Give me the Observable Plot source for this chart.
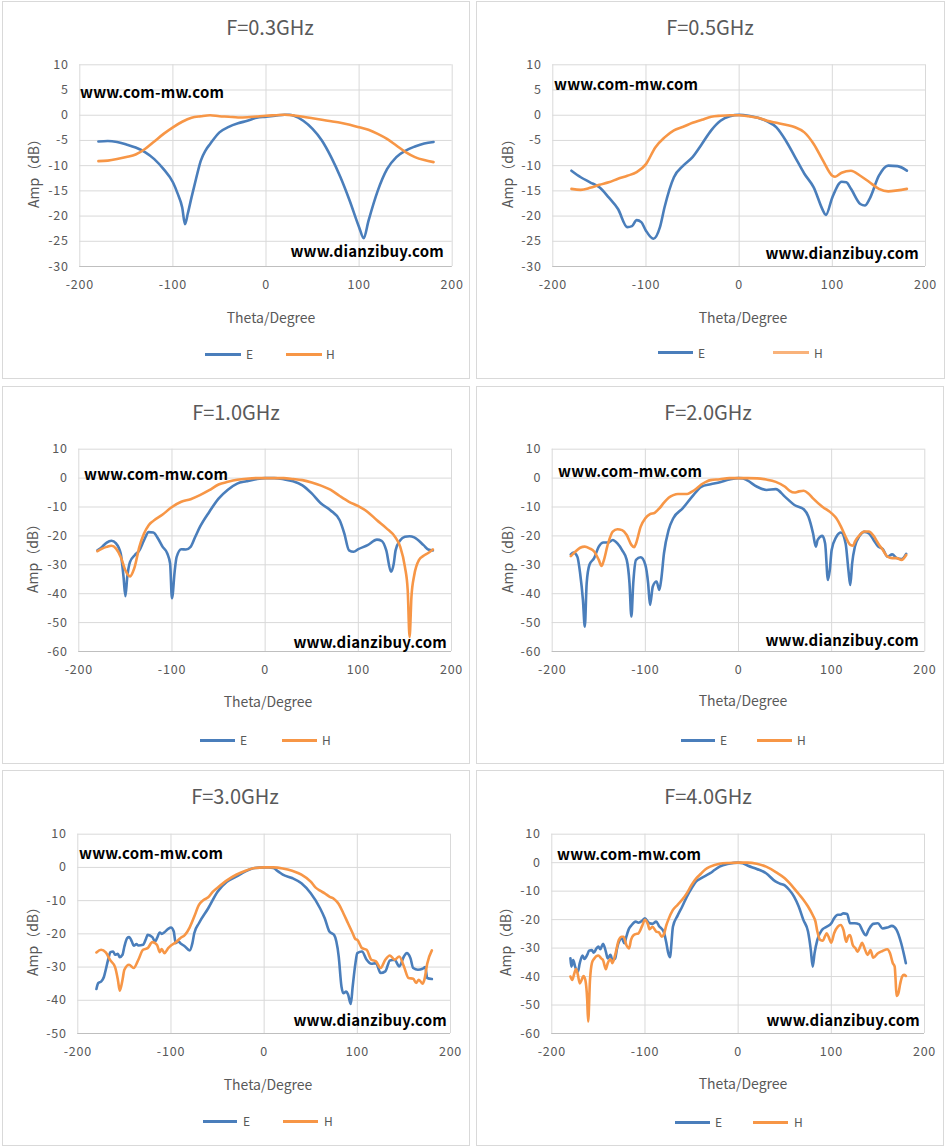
<!DOCTYPE html>
<html><head><meta charset="utf-8">
<script src="https://cdn.jsdelivr.net/npm/d3@7"></script>
<script src="https://cdn.jsdelivr.net/npm/@observablehq/plot@0.6"></script>
<style>
body{margin:0;background:#fff;}
#page{position:relative;width:946px;height:1148px;background:#fff;overflow:hidden;font-family:"Noto Sans CJK SC","Noto Sans",sans-serif;color:#595959;}
.box{position:absolute;border:1px solid #D9D9D9;box-sizing:border-box;background:#fff;}
.t{position:absolute;white-space:nowrap;line-height:1;}
.title{font-size:20px;transform:translate(-50%,-50%);}
.xlab{font-size:14px;transform:translate(-50%,-50%);}
.ylab{font-size:14px;transform:translate(-50%,-50%) rotate(-90deg);}
.leg{font-size:12px;transform:translate(0,-50%);}
.wm{font-size:15px;color:#000;font-weight:bold;letter-spacing:0.2px;}
.wmL{transform:translate(0,-50%);}
.wmR{transform:translate(-100%,-50%);}
.ll{position:absolute;height:3px;}
svg{position:absolute;}
svg text{letter-spacing:0.8px;}
</style></head>
<body><div id="page"></div>
<script>
// ---------- data: [theta (deg), amplitude (dB)] ----------
const xTicks = [-200, -100, 0, 100, 200];
const yTicks03 = [-30, -25, -20, -15, -10, -5, 0, 5, 10];
const yTicks10 = [-60, -50, -40, -30, -20, -10, 0, 10];
const yTicks30 = [-50, -40, -30, -20, -10, 0, 10];
const seriesNames = ["E", "H"];
const titles = ["F=0.3GHz", "F=0.5GHz", "F=1.0GHz", "F=2.0GHz", "F=3.0GHz", "F=4.0GHz"];

const e03 = [[-180,-5.2],[-170,-5.1],[-160,-5.3],[-150,-5.8],[-140,-6.4],[-130,-7.3],[-120,-8.7],[-110,-10.7],[-100,-13.3],[-95,-15.5],[-90,-18.3],[-87,-21.6],[-84,-19.5],[-80,-16.3],[-75,-12.5],[-70,-9],[-65,-7],[-60,-5.7],[-50,-3.4],[-40,-2.3],[-30,-1.6],[-20,-1.1],[-10,-0.5],[0,-0.3],[10,-0.1],[20,0.1],[25,0.1],[30,-0.1],[40,-1.1],[50,-2.7],[60,-5],[70,-8.3],[80,-12.3],[90,-17],[100,-22.2],[105,-24.4],[110,-21],[120,-15],[130,-10.7],[140,-8.3],[150,-7],[160,-6.2],[170,-5.6],[180,-5.3]];
const h03 = [[-180,-9.1],[-170,-9],[-160,-8.7],[-150,-8.3],[-140,-7.8],[-130,-6.7],[-120,-5.2],[-110,-3.7],[-100,-2.4],[-90,-1.3],[-80,-0.5],[-70,-0.2],[-60,0],[-50,-0.2],[-40,-0.3],[-30,-0.45],[-20,-0.4],[-10,-0.25],[0,-0.1],[10,0],[20,0.1],[30,-0.05],[40,-0.3],[50,-0.6],[60,-0.9],[70,-1.2],[80,-1.5],[90,-1.9],[100,-2.4],[110,-2.9],[120,-3.7],[130,-4.7],[140,-6],[150,-7.3],[160,-8.3],[170,-8.9],[180,-9.3]];

const e05 = [[-180,-11],[-170,-12.3],[-160,-13.3],[-150,-14.3],[-140,-16.3],[-130,-18.6],[-120,-22.2],[-115,-22],[-110,-20.8],[-105,-21.2],[-100,-22.9],[-92,-24.5],[-85,-22.2],[-80,-18.2],[-70,-12.3],[-60,-10],[-50,-8.3],[-40,-5.7],[-30,-3],[-20,-1.1],[-10,-0.2],[0,0.07],[10,-0.1],[20,-0.5],[30,-1.2],[40,-2.4],[50,-5],[60,-8.3],[70,-11.6],[80,-14.3],[90,-18.9],[93,-19.8],[100,-16.3],[110,-13.2],[115,-13.3],[120,-14.6],[130,-17.6],[135,-17.9],[140,-16.6],[150,-12],[160,-10],[170,-10.1],[180,-11]];
const h05 = [[-180,-14.6],[-170,-14.8],[-160,-14.4],[-150,-13.8],[-140,-13.3],[-130,-12.6],[-120,-12],[-110,-11.3],[-100,-9.7],[-90,-6.4],[-80,-4.4],[-70,-3],[-60,-2.3],[-50,-1.5],[-40,-0.9],[-30,-0.3],[-20,-0.1],[-10,0],[0,0],[10,-0.2],[20,-0.5],[30,-1.1],[40,-1.5],[50,-1.9],[60,-2.4],[70,-3.4],[80,-5.7],[90,-9],[100,-12],[103,-12.2],[110,-11.4],[120,-11],[130,-12],[140,-13.3],[150,-14.6],[160,-15.1],[170,-14.9],[180,-14.6]];

const e10 = [[-180,-25],[-175,-23.8],[-170,-22.3],[-165,-21.7],[-160,-22.6],[-155,-26.1],[-152,-34.2],[-150,-40.9],[-148,-34.2],[-145,-29],[-140,-26.7],[-135,-25],[-130,-21.5],[-125,-18.7],[-120,-18.8],[-115,-20.9],[-110,-23.8],[-105,-26.1],[-102,-29.6],[-100,-41.6],[-97,-31.9],[-95,-27.3],[-90,-24.6],[-85,-24.7],[-80,-23.8],[-75,-20.3],[-70,-16.9],[-60,-11.7],[-50,-7.1],[-40,-4],[-30,-1.9],[-20,-1.1],[-10,-0.4],[0,0],[10,0],[20,-0.4],[30,-1.1],[40,-2.5],[50,-5.3],[60,-8.8],[70,-11.1],[80,-14.6],[85,-19.2],[90,-25],[95,-25.5],[100,-24.6],[110,-23.2],[120,-21.3],[125,-21.7],[130,-25],[135,-32.4],[138,-29.6],[140,-25],[145,-21.5],[150,-20.3],[155,-20.1],[160,-20.5],[170,-23.2],[175,-24.7],[180,-25]];
const h10 = [[-180,-25.3],[-175,-24.4],[-170,-23.8],[-165,-23.4],[-160,-24.4],[-155,-27.3],[-150,-31.9],[-147,-33.6],[-145,-34],[-142,-32.5],[-140,-30.7],[-135,-23.8],[-130,-19.2],[-125,-16.3],[-120,-14.8],[-110,-12.6],[-100,-10],[-90,-8.2],[-80,-7.3],[-70,-5.9],[-60,-4.2],[-50,-2.2],[-40,-1.3],[-30,-0.6],[-20,-0.2],[-10,0],[0,0],[10,0],[20,0],[30,-0.3],[40,-0.7],[50,-1.5],[60,-2.6],[70,-4],[80,-6.2],[90,-8.2],[100,-9.7],[110,-11.7],[120,-14.6],[130,-17.3],[140,-20.6],[145,-23.8],[150,-30.7],[153,-38.8],[155,-55],[157,-41.1],[160,-33.6],[165,-28.4],[170,-26.9],[175,-25.9],[180,-24.7]];

const e20 = [[-180,-26.4],[-177,-25.8],[-173,-27.2],[-170,-33],[-167,-42.2],[-165,-51.4],[-163,-36.4],[-160,-30],[-155,-27.7],[-150,-23.7],[-145,-22.3],[-140,-22.3],[-135,-21.4],[-130,-22.6],[-125,-24.9],[-120,-28.3],[-117,-36.4],[-115,-47.9],[-113,-36.4],[-110,-28.3],[-105,-27.4],[-100,-30],[-97,-36.4],[-95,-43.9],[-92,-37.5],[-88,-35.8],[-85,-38.7],[-83,-35.2],[-80,-26],[-75,-17.9],[-70,-13.9],[-60,-10.5],[-50,-6.5],[-40,-3],[-30,-2.1],[-20,-1.4],[-10,-0.5],[0,0],[5,-0.1],[10,-0.9],[20,-3],[30,-4.1],[40,-3.8],[50,-6.5],[60,-9.3],[70,-10.8],[75,-13.3],[80,-19.1],[83,-23.7],[85,-21.4],[90,-20],[93,-22.6],[96,-35.2],[98,-31.8],[100,-24.9],[105,-20.3],[110,-18.8],[115,-22.6],[118,-31.8],[120,-37],[122,-29.5],[125,-23.7],[130,-20],[135,-18.6],[140,-19.1],[145,-21.4],[150,-23.7],[155,-24.6],[160,-27.2],[165,-26.4],[170,-27.7],[175,-28],[180,-26.2]];
const h20 = [[-180,-27],[-175,-25.4],[-170,-24.1],[-165,-23.7],[-160,-24.3],[-155,-25.4],[-150,-28.3],[-147,-30.4],[-145,-28.9],[-140,-22.6],[-135,-18.5],[-130,-17.7],[-125,-18],[-120,-19.7],[-115,-23.1],[-112,-23.9],[-110,-22.6],[-105,-16.8],[-100,-13.9],[-95,-12.5],[-90,-12],[-85,-10.5],[-80,-8.5],[-75,-6.8],[-70,-5.9],[-65,-5.5],[-60,-5.5],[-55,-5.5],[-50,-4.7],[-45,-3.6],[-40,-2.2],[-35,-1.3],[-30,-0.7],[-20,-0.4],[-10,0],[0,0],[10,0],[20,-0.1],[30,-0.5],[40,-1.3],[50,-3],[55,-4.4],[60,-5],[65,-4.6],[70,-4.4],[75,-5.3],[80,-7],[90,-9.9],[100,-12.2],[105,-13.9],[110,-16.8],[115,-20.3],[120,-23.1],[123,-23.4],[125,-22],[130,-19.7],[135,-18.5],[140,-18.5],[145,-20],[150,-22.6],[155,-24.9],[160,-27.2],[165,-27.7],[170,-27.7],[175,-28.3],[180,-26.6]];

const e30 = [[-180,-36.6],[-178,-34.8],[-175,-34.4],[-172,-33],[-170,-30.8],[-167,-27.3],[-165,-25.5],[-162,-25.3],[-160,-26.3],[-157,-26],[-155,-27],[-152,-26.3],[-150,-23.8],[-147,-21.3],[-145,-21],[-142,-22.3],[-140,-23.6],[-137,-23.1],[-135,-23.5],[-130,-23.3],[-127,-21.6],[-125,-20.3],[-120,-21],[-117,-22.3],[-115,-21.3],[-112,-19.6],[-110,-20],[-107,-19.5],[-103,-18.5],[-100,-18.1],[-97,-19.3],[-95,-22.8],[-92,-22.3],[-90,-22.8],[-85,-23.8],[-80,-25],[-77,-22.8],[-75,-19.8],[-70,-16.8],[-60,-12.3],[-50,-7.3],[-40,-4.3],[-30,-2.8],[-20,-1.2],[-10,-0.2],[0,0],[5,0],[10,-0.2],[15,-1.2],[20,-2.2],[30,-3.2],[40,-4.8],[50,-7.8],[60,-12.3],[65,-15.3],[70,-19.3],[75,-20.3],[80,-26.8],[83,-35.9],[85,-37.9],[88,-37.4],[90,-38.2],[93,-41.1],[95,-35.9],[98,-28.8],[100,-25.8],[105,-25.3],[110,-27.8],[115,-29],[120,-28.8],[125,-31.8],[130,-31.3],[135,-28],[140,-27.8],[145,-29.8],[150,-26.8],[153,-25.8],[157,-27.3],[160,-30.3],[165,-30.8],[170,-30.5],[173,-30],[175,-33.3],[180,-33.6]];
const h30 = [[-180,-25.6],[-175,-24.8],[-170,-25.6],[-165,-28],[-160,-30],[-157,-33.8],[-155,-37.1],[-152,-33.8],[-150,-30.8],[-145,-29.3],[-140,-30.3],[-135,-27.8],[-130,-24.8],[-125,-24.3],[-120,-22.5],[-115,-23.3],[-112,-25.5],[-110,-24.6],[-107,-25.8],[-103,-24.3],[-100,-23.5],[-95,-22.6],[-90,-21.3],[-85,-20.3],[-80,-18.1],[-75,-14.8],[-70,-11.3],[-65,-9.8],[-60,-9],[-55,-7.3],[-50,-6.1],[-40,-3.9],[-30,-2.2],[-20,-1],[-10,-0.2],[0,0],[10,0],[20,-0.3],[30,-1],[40,-2.2],[50,-4.3],[55,-6],[60,-7],[65,-7.8],[70,-8.8],[75,-9.5],[80,-11],[85,-13.8],[90,-16.8],[95,-19.8],[98,-21.6],[100,-21.8],[105,-24.3],[110,-24.8],[115,-27.8],[120,-28.3],[125,-30.3],[130,-27.8],[135,-26.5],[140,-27.8],[145,-26.8],[150,-29.8],[155,-33.3],[160,-33.5],[163,-34.8],[166,-33.8],[170,-35],[172,-33.8],[175,-29],[180,-25]];

const e40 = [[-180,-33.6],[-179,-36.5],[-177,-34.2],[-175,-36.5],[-172,-38.3],[-170,-35.3],[-167,-32.6],[-165,-33.8],[-162,-32.4],[-160,-30.9],[-157,-30.7],[-155,-31.6],[-152,-30.1],[-150,-29.5],[-148,-30.4],[-145,-28.5],[-142,-31.2],[-140,-33.6],[-137,-32.4],[-135,-34.2],[-132,-33.6],[-130,-30.1],[-127,-27.1],[-125,-26.5],[-122,-28.3],[-120,-26],[-117,-23.1],[-115,-22.2],[-110,-20.7],[-107,-21.1],[-103,-20.4],[-100,-19.5],[-97,-20.7],[-95,-21.3],[-92,-21.5],[-88,-20.7],[-85,-22.2],[-80,-24.2],[-77,-28.3],[-75,-31.8],[-73,-33.2],[-72,-30],[-70,-22.5],[-65,-18.6],[-60,-15.4],[-55,-11.9],[-50,-9],[-45,-6.6],[-40,-5.5],[-35,-4.6],[-30,-3.7],[-25,-2.5],[-20,-1.4],[-10,-0.4],[0,0],[5,-0.2],[10,-1],[20,-2.2],[30,-3.7],[40,-6.6],[45,-7.4],[50,-8],[55,-9.6],[60,-11.9],[65,-15.4],[70,-20.1],[75,-24.2],[78,-30.7],[80,-36.5],[82,-31.8],[85,-27.1],[90,-23.6],[95,-22.5],[100,-21.3],[103,-19.5],[107,-18.3],[110,-18.3],[113,-17.8],[117,-18],[120,-21.3],[125,-21.3],[130,-21.7],[133,-23.6],[137,-25.5],[140,-23.6],[145,-21.5],[150,-21.3],[155,-23.1],[160,-22.8],[165,-22.2],[170,-23.6],[175,-28.3],[180,-35.3]];
const h40 = [[-180,-40],[-178,-41.2],[-176,-39.1],[-174,-37.4],[-172,-39.4],[-170,-42.4],[-168,-41.2],[-166,-39.8],[-164,-41.2],[-162,-48.2],[-161,-55.8],[-159,-41.2],[-157,-35.3],[-155,-33.9],[-150,-32.6],[-147,-33.6],[-145,-34.2],[-142,-37.4],[-140,-35.3],[-137,-33.9],[-135,-35.3],[-132,-32.4],[-128,-27.1],[-125,-26],[-123,-26],[-120,-28.9],[-117,-30.1],[-115,-27.1],[-112,-25.4],[-110,-25.1],[-107,-24.8],[-103,-22.2],[-100,-20.1],[-97,-21.5],[-95,-23.4],[-92,-22.5],[-88,-24.2],[-85,-24.5],[-82,-26],[-80,-25.4],[-77,-21.9],[-75,-20.1],[-70,-16.6],[-65,-14.8],[-60,-13],[-55,-10.7],[-50,-7.8],[-45,-5.5],[-40,-3.9],[-35,-2.3],[-30,-1.4],[-20,-0.4],[-10,-0.1],[0,0],[10,0],[20,-0.4],[30,-1.4],[40,-3.2],[50,-5.5],[60,-9],[65,-11],[70,-13],[75,-15.4],[80,-18.4],[83,-20.7],[85,-24.2],[88,-27.1],[91,-27.4],[93,-26],[95,-24.8],[97,-26],[100,-28.1],[103,-24.8],[107,-22.5],[110,-21.9],[113,-23.6],[116,-27.8],[118,-26],[120,-25.4],[123,-28.9],[126,-30.1],[128,-31.3],[131,-29.5],[133,-28.1],[136,-30.4],[139,-32.4],[142,-30.7],[145,-33.4],[150,-31.8],[155,-31],[160,-30.4],[163,-31.8],[166,-35.3],[168,-36.5],[169,-41.2],[170,-46.8],[172,-45.8],[174,-42.4],[176,-40],[178,-39.4],[180,-39.8]];

// ---------- panels ----------
const panelData = [
  {title: titles[0], E: e03, H: h03, yTicks: yTicks03},
  {title: titles[1], E: e05, H: h05, yTicks: yTicks03},
  {title: titles[2], E: e10, H: h10, yTicks: yTicks10},
  {title: titles[3], E: e20, H: h20, yTicks: yTicks10},
  {title: titles[4], E: e30, H: h30, yTicks: yTicks30},
  {title: titles[5], E: e40, H: h40, yTicks: yTicks10}
];

// layout (page pixel coordinates)
const layout = [
  {box:[2,1,470,379], plot:[79.3,451.7,64.3,266], title:[270,27], xlab:[271,317], ylab:[33,170], legY:354, legE:[205,241,246], legH:[286,322,326], wm1:[80,91], wm2:[444,250], hLeg:"#F79646"},
  {box:[476,1,945,379], plot:[552.3,925,64.3,266], title:[710,27], xlab:[743,317], ylab:[507,170], legY:352.5, legE:[658,693,698], legH:[773,809,814], wm1:[554,83], wm2:[919,252], hLeg:"#F9B27A"},
  {box:[2,386,470,764], plot:[78.3,451,448.7,651], title:[236,412], xlab:[268,701], ylab:[32,555], legY:740, legE:[200,235,240], legH:[282,317,322], wm1:[84,473], wm2:[447,641], hLeg:"#F79646"},
  {box:[476,386,944,764], plot:[551.7,924.3,448.7,651], title:[708,412], xlab:[743,700], ylab:[507,555], legY:740, legE:[681,715,720], legH:[757,792,797], wm1:[558,470], wm2:[919,639], hLeg:"#F79646"},
  {box:[2,770,470,1146], plot:[77.3,450,833.7,1033], title:[235,796], xlab:[268,1084], ylab:[32,938], legY:1121, legE:[203,237,243], legH:[283,318,324], wm1:[79,852], wm2:[447,1019], hLeg:"#F79646"},
  {box:[476,770,944,1146], plot:[551.3,924,833.7,1033], title:[708,796], xlab:[743,1083], ylab:[505,938], legY:1122, legE:[675,710,715], legH:[753,788,794], wm1:[557,853], wm2:[920,1019], hLeg:"#F79646"}
];

const colE = "#4A7EBB", colH = "#F79646";
const page = document.getElementById("page");

function addText(cls, txt, x, y) {
  const d = document.createElement("div");
  d.className = "t " + cls;
  d.textContent = txt;
  d.style.left = x + "px";
  d.style.top = y + "px";
  page.appendChild(d);
  return d;
}
function addLine(x1, x2, y, color) {
  const d = document.createElement("div");
  d.className = "ll";
  d.style.left = x1 + "px";
  d.style.width = (x2 - x1) + "px";
  d.style.top = (y - 1.5) + "px";
  d.style.background = color;
  page.appendChild(d);
}

panelData.forEach((p, i) => {
  const L = layout[i];
  const [bl, bt, br, bb] = L.box;
  const [pl, pr, pt, pb] = L.plot;
  const box = document.createElement("div");
  box.className = "box";
  box.style.left = bl + "px"; box.style.top = bt + "px";
  box.style.width = (br - bl) + "px"; box.style.height = (bb - bt) + "px";
  page.appendChild(box);

  const yDom = [p.yTicks[0], p.yTicks[p.yTicks.length - 1]];
  const rows = [];
  p.E.forEach(([t, a]) => rows.push({theta: t, amp: a, s: seriesNames[0]}));
  p.H.forEach(([t, a]) => rows.push({theta: t, amp: a, s: seriesNames[1]}));

  const svg = Plot.plot({
    width: br - bl,
    height: bb - bt,
    marginLeft: pl - bl,
    marginRight: br - pr,
    marginTop: pt - bt,
    marginBottom: bb - pb,
    style: {fontFamily: '"Noto Sans CJK SC","Noto Sans",sans-serif', fontSize: "12.5px", color: "#595959", background: "transparent", overflow: "visible"},
    x: {domain: [-200, 200], label: null},
    y: {domain: yDom, label: null},
    color: {domain: seriesNames, range: [colE, colH]},
    marks: [
      Plot.ruleX(xTicks, {stroke: "#D9D9D9", strokeWidth: 1}),
      Plot.ruleY(p.yTicks, {stroke: "#D9D9D9", strokeWidth: 1}),
      Plot.ruleY([yDom[0]], {stroke: "#BFBFBF", strokeWidth: 1}),
      Plot.axisX({ticks: xTicks, tickSize: 0, tickPadding: 14, tickFormat: d => String(d), fill: "#595959", fontSize: 12.5}),
      Plot.axisY({ticks: p.yTicks, tickSize: 0, tickPadding: 11, tickFormat: d => String(d), fill: "#595959", fontSize: 12.5}),
      Plot.line(rows, {x: "theta", y: "amp", stroke: "s", z: "s", strokeWidth: 2.6, curve: "monotone-x"})
    ]
  });
  svg.style.left = bl + "px";
  svg.style.top = bt + "px";
  page.appendChild(svg);

  addText("title", p.title, L.title[0], L.title[1]);
  addText("xlab", "Theta/Degree", L.xlab[0], L.xlab[1]);
  addText("ylab", "Amp（dB）", L.ylab[0], L.ylab[1]);
  addLine(L.legE[0], L.legE[1], L.legY, colE);
  addText("leg", seriesNames[0], L.legE[2], L.legY);
  addLine(L.legH[0], L.legH[1], L.legY, L.hLeg);
  addText("leg", seriesNames[1], L.legH[2], L.legY);
  addText("wm wmL", "www.com-mw.com", L.wm1[0], L.wm1[1]);
  addText("wm wmR", "www.dianzibuy.com", L.wm2[0], L.wm2[1]);
});
</script>
</body></html>
